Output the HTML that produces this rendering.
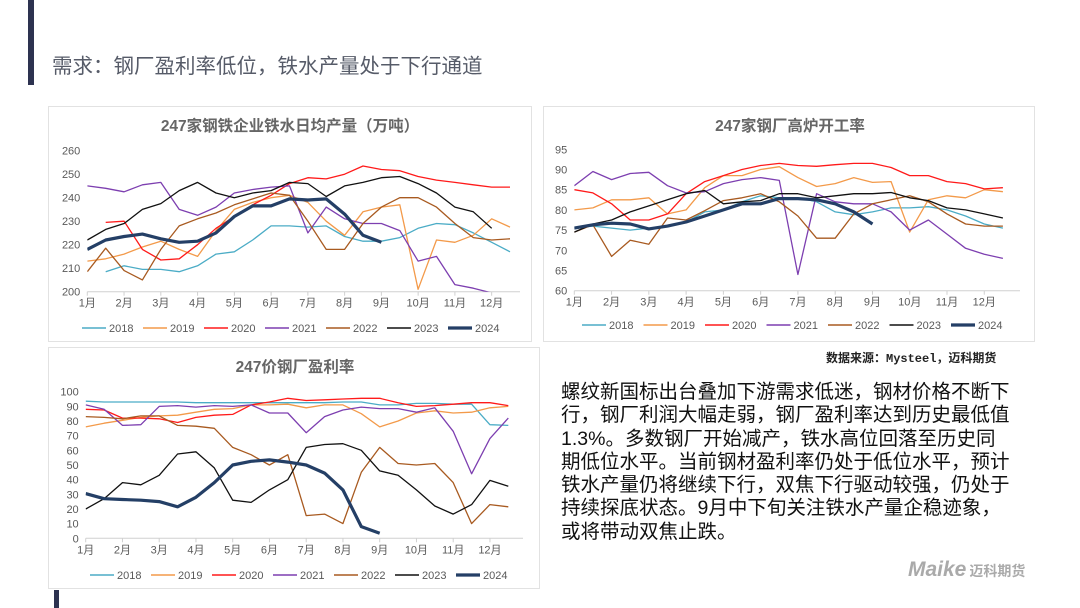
<!DOCTYPE html>
<html><head><meta charset="utf-8">
<style>
body{margin:0;background:#fff;}
#root{position:relative;width:1080px;height:608px;overflow:hidden;background:#fff;font-family:"Liberation Sans","Noto Sans CJK SC",sans-serif;}
.abs{position:absolute;}
.panel{position:absolute;border:1px solid #e2e2e2;background:#fff;}
.body{left:561px;top:381px;width:480px;font-size:19.5px;line-height:23.3px;color:#111;white-space:nowrap;}
</style></head>
<body>
<div id="root">
  <div class="abs" style="left:28px;top:0;width:6px;height:85px;background:#2d3250"></div>
  <div class="abs" style="left:54px;top:590px;width:5px;height:18px;background:#2d3250"></div>
  <div class="abs" style="left:52px;top:49px;font-size:20.5px;color:#565b68;white-space:nowrap">需求：钢厂盈利率低位，铁水产量处于下行通道</div>
  <div class="panel" style="left:48px;top:106px;width:482px;height:234px"></div>
  <div class="panel" style="left:543px;top:106px;width:490px;height:234px"></div>
  <div class="panel" style="left:48px;top:347px;width:490px;height:240px"></div>
  <svg id="svg" class="abs" style="left:0;top:0" width="1080" height="608"></svg>
  <div class="abs" style="left:826px;top:349px;font-size:12px;font-weight:bold;color:#222;font-family:'Liberation Mono','Noto Sans CJK SC',monospace;white-space:nowrap">数据来源：Mysteel，迈科期货</div>
  <div class="abs body">螺纹新国标出台叠加下游需求低迷，钢材价格不断下<br>行，钢厂利润大幅走弱，钢厂盈利率达到历史最低值<br>1.3%。多数钢厂开始减产，铁水高位回落至历史同<br>期低位水平。当前钢材盈利率仍处于低位水平，预计<br>铁水产量仍将继续下行，双焦下行驱动较强，仍处于<br>持续探底状态。9月中下旬关注铁水产量企稳迹象，<br>或将带动双焦止跌。</div>
  <div class="abs" style="left:908px;top:558px;white-space:nowrap;color:#aaa"><span style="font-size:21px;font-weight:bold;font-style:italic">Maike</span><span style="font-size:14px;font-weight:bold;margin-left:3px">迈科期货</span></div>
</div>
<script>
const years=['2018','2019','2020','2021','2022','2023','2024'];
const colors=['#4bacc6','#f39a4a','#ff1a1a','#7d3fb0','#a85a20','#111111','#243f66'];
const months=['1月','2月','3月','4月','5月','6月','7月','8月','9月','10月','11月','12月'];
// Chart 1: hot metal daily output (10k t), semi-monthly points
const c1Ticks=[200,210,220,230,240,250,260];
const c1_2018=[null,208.5,211,209.5,209.5,208.5,211,216,217,222,228,228,227.5,228,223.5,221.5,221.5,223,227,229,228.5,225,221,217];
const c1_2019=[213,214,216,219,221.5,218,215,226,235,238,240,241,238,230,224,234,236,237,201,222,221,224,231,227.5];
const c1_2020=[null,229.5,230,218,213.5,214,220,227,232,237,241,246,248.5,248,250,253.5,252,251.5,249,247.5,246.5,245.5,244.5,244.5];
const c1_2021=[245,244,242.5,245.5,246.5,235,232.5,236,242,243.5,244.5,245,225,236,231,229,229,226,213,215,203,201.5,199.5,199];
const c1_2022=[208.5,218.5,209,205,218,228,231,233.5,237,239.5,242,241,230,218,218,229,236,240,240,236,229,223,222,222.5];
const c1_2023=[222,226.5,229,235,237.5,243,246.5,242,240,242,243,246.5,246,240.5,245,246.5,248.5,249,246,242,236,234,227,null];
const c1_2024=[218,222,223.5,224.5,222.5,221,221.5,225,232,236.5,236.5,239.5,239,239.5,233,224,221];
// Chart 2: blast furnace operating rate (%)
const c2Ticks=[60,65,70,75,80,85,90,95];
const c2_2018=[75.5,76,75.5,75,75.5,75.8,77,79.5,80,82,83.5,83,83,82,79.5,78.8,79.5,80.5,80.5,80.8,80,78.5,76.5,75.5];
const c2_2019=[80,80.5,82.5,82.5,83,79,80,85.5,88.5,88.5,90,90.7,88,85.8,86.5,88,86.8,87,74.5,82.5,83.5,83,85,84.5];
const c2_2020=[85,84.2,81.5,77.5,77.5,79,84,87,88.5,90,91,91.5,91,90.8,91.2,91.5,91.5,90.5,88.5,88.5,87,86.5,85.2,85.5];
const c2_2021=[86,89.5,87.5,89,89.3,86,84.2,84.5,86.5,87.5,88,87.3,64,84,82,81.5,81.5,79.5,75,77.5,74,70.5,69,68];
const c2_2022=[74.5,76.3,68.5,72.5,71.5,78,77.5,79.8,82.3,83,84,82,78.5,73,73,79,81.5,82.5,83.5,82,79,76.5,76,76];
const c2_2023=[74.5,76.5,77.5,79.5,81,82.5,84,84.8,81.5,82,82.3,84,84,83,83.5,84,84,84.3,83,82.3,80.5,80,79,78];
const c2_2024=[75.5,76.3,76.7,76.5,75.3,76,77,78.5,80,81.5,81.5,82.8,82.8,82.5,81.5,79.5,76.5];
// Chart 3: steel mill profit rate (%)
const c3Ticks=[0,10,20,30,40,50,60,70,80,90,100];
const c3_2018=[93.5,93,93,93,93,93,92.5,92.5,92.5,92.5,92.5,92.5,92.5,92.5,93,93,91,91,92,92,91.5,91.5,77.5,77];
const c3_2019=[76,78.5,80.5,82.5,83.5,84,86,88,88.5,91,91,91.5,89,91,91,85,76,80,85.5,87,85.5,86,89,90];
const c3_2020=[88,87.5,82,82,81.5,79,82.5,84,84.5,91,93,95.5,94,94.5,95,95.5,95.5,92.5,90,90.5,91.5,92.5,92.5,90.5];
const c3_2021=[91,88,77,77.5,90,90.5,89.5,90.5,90,91,85.5,85.5,72,83,87.5,89.5,88.5,88.5,86,89,73,44,68,82];
const c3_2022=[83,82.5,81.5,83.5,83.5,77,76.5,75,62,57,50,57,15.5,16.5,10,45,62,51,50,51,38,10,23,21.5];
const c3_2023=[20,27,38,36.5,43,57.5,59,48,26,24.5,33,40,62,64,64.5,60,46,43,33,22,16.5,23,39.5,35.5];
const c3_2024=[30.5,27,26.5,26,25,21.5,28,38,50,52.5,53.5,52,50,44.5,33,8,3.5];

const NS='http://www.w3.org/2000/svg';
const svg=document.getElementById('svg');
function mk(tag,attrs,parent){const e=document.createElementNS(NS,tag);for(const k in attrs)e.setAttribute(k,attrs[k]);(parent||svg).appendChild(e);return e;}

function drawChart(id,cfg,ticks,series){
  const g=mk('g',{});
  
  
  const vmin=ticks[0],vmax=ticks[ticks.length-1];
  const y=v=>cfg.yBot-(v-vmin)*(cfg.yBot-cfg.yTop)/(vmax-vmin);
  const x=i=>cfg.x0+i*cfg.mw/2;
  const t=mk('text',{x:cfg.titleX,y:cfg.titleY,'font-size':cfg.titleSize,'font-weight':'bold','fill':'#666','text-anchor':'middle','font-family':'Liberation Sans,Noto Sans CJK SC,sans-serif'},g);
  t.textContent=cfg.title;
  
  
  ticks.forEach(v=>{
    const l=mk('text',{x:cfg.x0-7,y:y(v)+4,'font-size':11,'fill':'#595959','text-anchor':'end'},g);
    l.textContent=v;
    
    
  });
  const ax=mk('line',{x1:cfg.x0,x2:cfg.xEnd,y1:cfg.yBot,y2:cfg.yBot,stroke:'#d0d0d0','stroke-width':1},g);
  
  
  months.forEach((m,k)=>{
    mk('line',{x1:x(2*k),x2:x(2*k),y1:cfg.yBot,y2:cfg.yBot+4,stroke:'#d0d0d0'},g);
    const l=mk('text',{x:x(2*k),y:cfg.yBot+15,'font-size':11,'fill':'#595959','text-anchor':'middle','font-family':'Liberation Sans,Noto Sans CJK SC,sans-serif'},g);
    l.textContent=m;
    
    
  });
  const cp=mk('clipPath',{id:id+'-clip'},g);
  mk('rect',{x:cfg.x0,y:cfg.yTop-5,width:cfg.xEnd-cfg.x0+5,height:cfg.yBot-cfg.yTop+5},cp);
  series.forEach((arr,s)=>{
    let d='',pen=false;
    arr.forEach((v,i)=>{
      if(v===null){pen=false;return;}
      d+=(pen?'L':'M')+x(i).toFixed(1)+','+y(v).toFixed(1);pen=true;
    });
    const p=mk('path',{d:d,fill:'none',stroke:colors[s],'stroke-width':s===6?3.2:1.3,'stroke-linejoin':'round','clip-path':'url(#'+id+'-clip)'},g);
    
    
  });
  years.forEach((yr,s)=>{
    const lx=cfg.legX+s*cfg.legStep;
    const le=mk('g',{},g);
    
    
    mk('line',{x1:lx,x2:lx+24,y1:cfg.legY,y2:cfg.legY,stroke:colors[s],'stroke-width':s===6?3.2:1.5},le);
    const tx=mk('text',{x:lx+27,y:cfg.legY+4,'font-size':11,'fill':'#595959'},le);
    tx.textContent=yr;
  });
}
drawChart('chart-hot-metal-output',{x0:87.3,mw:36.76,xEnd:520,yTop:150.7,yBot:291.7,title:'247家钢铁企业铁水日均产量（万吨）',titleX:290,titleY:131,titleSize:15.5,legX:82,legY:328,legStep:61},c1Ticks,[c1_2018,c1_2019,c1_2020,c1_2021,c1_2022,c1_2023,c1_2024]);
drawChart('chart-blast-furnace-rate',{x0:574.3,mw:37.27,xEnd:1020,yTop:149.3,yBot:290.7,title:'247家钢厂高炉开工率',titleX:790,titleY:131,titleSize:15.5,legX:582,legY:325,legStep:61.5},c2Ticks,[c2_2018,c2_2019,c2_2020,c2_2021,c2_2022,c2_2023,c2_2024]);
drawChart('chart-profit-rate',{x0:85.7,mw:36.75,xEnd:523,yTop:391.7,yBot:538.3,title:'247价钢厂盈利率',titleX:295,titleY:372,titleSize:15.5,legX:90,legY:575,legStep:61},c3Ticks,[c3_2018,c3_2019,c3_2020,c3_2021,c3_2022,c3_2023,c3_2024]);
</script>
</body></html>
